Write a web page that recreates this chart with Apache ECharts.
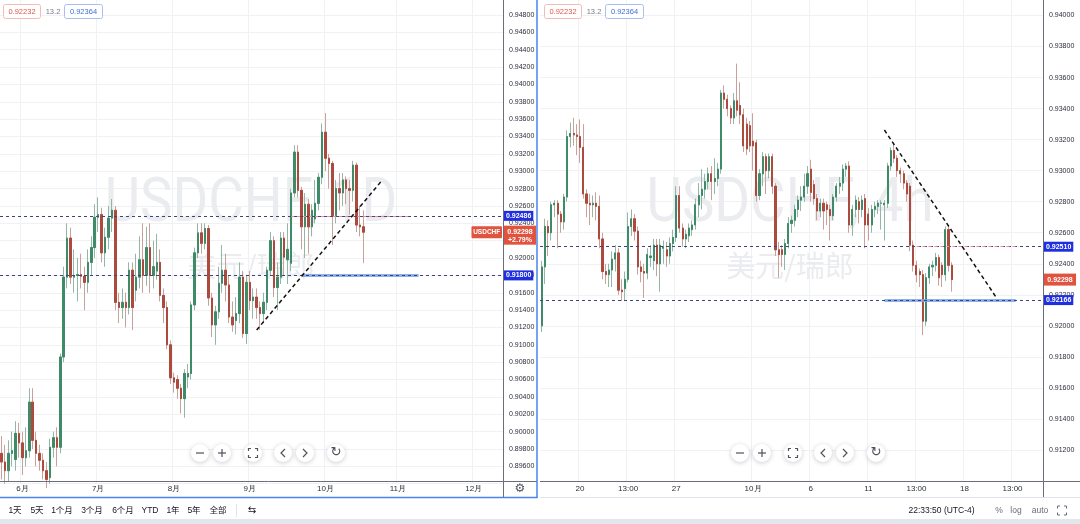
<!DOCTYPE html>
<html><head><meta charset="utf-8">
<script src="https://cdn.jsdelivr.net/npm/echarts@6/dist/echarts.min.js"></script>
<style>html,body{margin:0;padding:0;background:#fff;overflow:hidden}#c{width:1080px;height:524px}</style>
</head><body><div id="c"></div>
<script>
// ---------- data ----------
const leftTickIdx = [6, 28, 50, 72, 94, 115, 137];
const leftTickText = ['6月', '7月', '8月', '9月', '10月', '11月', '12月'];
const rightTickIdx = [12, 27, 42, 66, 84, 102, 117, 132, 147];
const rightTickText = ['20', '13:00', '27', '10月', '6', '11', '13:00', '18', '13:00'];

// daily candles [open, close, low, high]
const leftCandles = [
[0.8975,0.8965,0.8945,0.8995],[0.8965,0.8955,0.8940,0.8985],[0.8955,0.8975,0.8942,0.8990],[0.8975,0.8978,0.8960,0.9000],
[0.8968,0.8998,0.8955,0.9012],[0.8998,0.8987,0.8970,0.9010],[0.8987,0.8970,0.8950,0.9000],[0.8970,0.8978,0.8960,0.9005],
[0.8978,0.9034,0.8970,0.9050],[0.9034,0.8990,0.8980,0.9050],[0.8990,0.8975,0.8960,0.9000],[0.8975,0.8967,0.8955,0.8985],
[0.8967,0.8955,0.8945,0.8975],[0.8955,0.8945,0.8935,0.8965],[0.8947,0.8982,0.8940,0.8992],[0.8982,0.8993,0.8970,0.9000],
[0.8993,0.8982,0.8960,0.9005],[0.8982,0.9086,0.8975,0.9090],[0.9086,0.9178,0.9080,0.9190],[0.9178,0.9223,0.9165,0.9240],
[0.9223,0.9178,0.9170,0.9235],[0.9178,0.9180,0.9160,0.9210],[0.9180,0.9181,0.9150,0.9200],[0.9181,0.9179,0.9165,0.9205],
[0.9179,0.9172,0.9140,0.9190],[0.9172,0.9195,0.9160,0.9210],[0.9195,0.9212,0.9180,0.9225],[0.9212,0.9247,0.9200,0.9262],
[0.9247,0.9250,0.9230,0.9270],[0.9250,0.9206,0.9195,0.9258],[0.9206,0.9224,0.9190,0.9235],[0.9224,0.9246,0.9210,0.9260],
[0.9246,0.9255,0.9230,0.9268],[0.9255,0.9149,0.9140,0.9260],[0.9149,0.9143,0.9125,0.9160],[0.9143,0.9149,0.9130,0.9165],
[0.9149,0.9143,0.9120,0.9160],[0.9143,0.9186,0.9135,0.9195],[0.9186,0.9143,0.9117,0.9195],[0.9163,0.9178,0.9150,0.9205],
[0.9178,0.9198,0.9165,0.9225],[0.9198,0.9180,0.9160,0.9240],[0.9180,0.9212,0.9168,0.9236],[0.9212,0.9180,0.9160,0.9240],
[0.9180,0.9190,0.9165,0.9220],[0.9185,0.9195,0.9175,0.9228],[0.9195,0.9157,0.9150,0.9210],[0.9157,0.9143,0.9125,0.9165],
[0.9143,0.9100,0.9095,0.9150],[0.9100,0.9062,0.9055,0.9105],[0.9062,0.9057,0.9045,0.9068],[0.9060,0.9050,0.9038,0.9065],
[0.9050,0.9038,0.9021,0.9055],[0.9038,0.9067,0.9016,0.9072],[0.9063,0.9067,0.9050,0.9078],[0.9067,0.9146,0.9060,0.9150],
[0.9146,0.9206,0.9140,0.9212],[0.9206,0.9229,0.9200,0.9240],[0.9229,0.9217,0.9205,0.9240],[0.9217,0.9234,0.9210,0.9240],
[0.9234,0.9154,0.9145,0.9238],[0.9154,0.9123,0.9109,0.9160],[0.9123,0.9138,0.9100,0.9145],[0.9138,0.9171,0.9130,0.9190],
[0.9171,0.9186,0.9160,0.9215],[0.9186,0.9169,0.9150,0.9205],[0.9169,0.9132,0.9125,0.9180],[0.9132,0.9123,0.9115,0.9150],
[0.9128,0.9136,0.9112,0.9155],[0.9136,0.9178,0.9125,0.9195],[0.9178,0.9113,0.9108,0.9185],[0.9113,0.9172,0.9101,0.9180],
[0.9172,0.9151,0.9140,0.9185],[0.9151,0.9155,0.9130,0.9165],[0.9155,0.9143,0.9130,0.9165],[0.9143,0.9136,0.9117,0.9150],
[0.9136,0.9149,0.9125,0.9160],[0.9149,0.9186,0.9140,0.9190],[0.9186,0.9220,0.9180,0.9230],[0.9220,0.9166,0.9155,0.9225],
[0.9166,0.9178,0.9140,0.9195],[0.9178,0.9223,0.9170,0.9230],[0.9223,0.9201,0.9180,0.9230],[0.9198,0.9210,0.9170,0.9240],
[0.9194,0.9275,0.9185,0.9280],[0.9275,0.9322,0.9270,0.9330],[0.9322,0.9278,0.9270,0.9330],[0.9278,0.9236,0.9210,0.9282],
[0.9236,0.9262,0.9200,0.9275],[0.9262,0.9236,0.9205,0.9268],[0.9236,0.9255,0.9225,0.9262],[0.9245,0.9263,0.9240,0.9290],
[0.9263,0.9293,0.9255,0.9298],[0.9293,0.9345,0.9285,0.9355],[0.9345,0.9315,0.9300,0.9367],[0.9315,0.9309,0.9280,0.9320],
[0.9309,0.9249,0.9215,0.9312],[0.9249,0.9280,0.9240,0.9290],[0.9280,0.9275,0.9255,0.9298],[0.9275,0.9290,0.9260,0.9298],
[0.9290,0.9280,0.9262,0.9294],[0.9280,0.9278,0.9250,0.9290],[0.9278,0.9307,0.9265,0.9312],[0.9307,0.9238,0.9230,0.9310],
[0.9238,0.9236,0.9225,0.9260],[0.9236,0.92298,0.9194,0.9255]
];

// 4h candles [open, close, low, high]
const rightCandles = [
[0.9200,0.9238,0.9196,0.9242],[0.9238,0.9264,0.9227,0.9269],[0.9264,0.9260,0.9245,0.9268],[0.9260,0.9278,0.9255,0.9280],
[0.9278,0.9279,0.9270,0.9281],[0.9279,0.9272,0.9250,0.9281],[0.9272,0.9267,0.9260,0.9274],[0.9267,0.9283,0.9262,0.9285],
[0.9283,0.9322,0.9280,0.9326],[0.9322,0.9324,0.9315,0.9331],[0.9324,0.9323,0.9316,0.9334],[0.9323,0.9322,0.9310,0.9330],
[0.9322,0.9315,0.9305,0.9333],[0.9315,0.9285,0.9282,0.9330],[0.9285,0.9279,0.9270,0.9288],[0.9279,0.9278,0.9265,0.9285],
[0.9278,0.9279,0.9270,0.9284],[0.9279,0.9277,0.9268,0.9286],[0.9277,0.9256,0.9250,0.9284],[0.9256,0.9235,0.9230,0.9260],
[0.9235,0.9233,0.9227,0.9240],[0.9233,0.9236,0.9225,0.9240],[0.9236,0.9243,0.9225,0.9248],[0.9243,0.9247,0.9235,0.9252],
[0.9247,0.9223,0.9220,0.9250],[0.9223,0.9222,0.9216,0.9230],[0.9224,0.9230,0.9216,0.9235],[0.9230,0.9264,0.9228,0.9273],
[0.9264,0.9269,0.9258,0.9275],[0.9269,0.9261,0.9255,0.9272],[0.9261,0.9238,0.9233,0.9264],[0.9238,0.9235,0.9228,0.9242],
[0.9235,0.9234,0.9218,0.9240],[0.9234,0.9246,0.9230,0.9250],[0.9244,0.9245,0.9238,0.9252],[0.9242,0.9252,0.9236,0.9256],
[0.9252,0.9240,0.9232,0.9256],[0.9240,0.9252,0.9222,0.9256],[0.9250,0.9251,0.9240,0.9255],[0.9249,0.9245,0.9238,0.9254],
[0.9245,0.9253,0.9240,0.9257],[0.9253,0.9257,0.9248,0.9262],[0.9257,0.9284,0.9254,0.9290],[0.9284,0.9263,0.9260,0.9290],
[0.9263,0.9256,0.9251,0.9266],[0.9256,0.9259,0.9250,0.9262],[0.9258,0.9263,0.9254,0.9266],[0.9262,0.9265,0.9258,0.9268],
[0.9265,0.9278,0.9262,0.9282],[0.9278,0.9284,0.9270,0.9292],[0.9284,0.9288,0.9275,0.9301],[0.9288,0.9293,0.9282,0.9298],
[0.9293,0.9298,0.9288,0.9302],[0.9298,0.9293,0.9281,0.9303],[0.9293,0.9295,0.9285,0.9308],[0.9295,0.9301,0.9290,0.9305],
[0.9301,0.9350,0.9298,0.9352],[0.9350,0.9346,0.9340,0.9355],[0.9346,0.9340,0.9335,0.9349],[0.9340,0.9334,0.9330,0.9342],
[0.9334,0.9345,0.9330,0.9350],[0.9345,0.9339,0.9335,0.9369],[0.9342,0.9336,0.9330,0.9357],[0.9336,0.9316,0.9312,0.9340],
[0.9330,0.9314,0.9310,0.9334],[0.9329,0.9316,0.9312,0.9332],[0.9319,0.9316,0.9300,0.9337],[0.9318,0.9284,0.9280,0.9320],
[0.9284,0.9298,0.9281,0.9301],[0.9298,0.9309,0.9290,0.9312],[0.9309,0.9300,0.9285,0.9311],[0.9300,0.9309,0.9295,0.9311],
[0.9309,0.9290,0.9285,0.9311],[0.9290,0.9249,0.9245,0.9292],[0.9249,0.9246,0.9231,0.9254],[0.9249,0.9246,0.9238,0.9252],
[0.9246,0.9253,0.9236,0.9256],[0.9253,0.9266,0.9250,0.9270],[0.9266,0.9268,0.9260,0.9271],[0.9268,0.9275,0.9264,0.9278],
[0.9275,0.9281,0.9270,0.9284],[0.9281,0.9283,0.9274,0.9290],[0.9283,0.9290,0.9280,0.9298],[0.9290,0.9298,0.9285,0.9303],
[0.9301,0.9286,0.9280,0.9307],[0.9291,0.9282,0.9278,0.9294],[0.9282,0.9274,0.9268,0.9285],[0.9274,0.9279,0.9270,0.9282],
[0.9279,0.9274,0.9262,0.9282],[0.9278,0.9275,0.9265,0.9280],[0.9275,0.9271,0.9255,0.9278],[0.9271,0.9283,0.9268,0.9285],
[0.9283,0.9290,0.9280,0.9292],[0.9290,0.9292,0.9285,0.9296],[0.9292,0.9301,0.9287,0.9304],[0.9301,0.9303,0.9296,0.9305],
[0.9303,0.9265,0.9260,0.9306],[0.9265,0.9275,0.9258,0.9278],[0.9275,0.9281,0.9270,0.9284],[0.9280,0.9275,0.9266,0.9283],
[0.9275,0.9281,0.9270,0.9284],[0.9282,0.9265,0.9250,0.9285],[0.9272,0.9265,0.9255,0.9276],[0.9265,0.9275,0.9260,0.9278],
[0.9275,0.9277,0.9270,0.9280],[0.9277,0.9279,0.9272,0.9281],[0.9279,0.9279,0.9262,0.9281],[0.9278,0.9279,0.9255,0.9281],
[0.9279,0.9303,0.9276,0.9305],[0.9303,0.9313,0.9300,0.9315],[0.9313,0.9308,0.9305,0.9317],[0.9308,0.9300,0.9296,0.9310],
[0.9300,0.9298,0.9292,0.9302],[0.9298,0.9292,0.9288,0.9300],[0.9292,0.9285,0.9280,0.9294],[0.9290,0.9252,0.9248,0.9292],
[0.9252,0.9239,0.9235,0.9255],[0.9239,0.9233,0.9228,0.9242],[0.9235,0.9233,0.9225,0.9237],[0.9233,0.9203,0.9194,0.9236],
[0.9203,0.9231,0.9200,0.9234],[0.9231,0.9238,0.9227,0.9240],[0.9238,0.9239,0.9232,0.9242],[0.9239,0.9244,0.9235,0.9247],
[0.9244,0.9231,0.9226,0.9246],[0.9239,0.9233,0.9225,0.9241],[0.9233,0.9262,0.9229,0.9264],[0.9262,0.9239,0.9235,0.9264],
[0.9239,0.92298,0.9222,0.9241]
];

const leftLevels = [0.92486, 0.91800];
const rightLevels = [0.92510, 0.92166];
const leftPinkSpan = [84, 118], leftBlueSpan = [87, 121];
const rightPinkSpan = [117, 149], rightBlueSpan = [107, 148];
const leftTrend = [[74, 0.91171], [110, 0.92876]];
const rightTrend = [[107, 0.93262], [142, 0.92180]];
const lastPrice = 0.92298;
const lastChange = '+2.79%';
const legendTexts = ['0.92232', '13.2', '0.92364'];
const toolbarItems = ['1天', '5天', '1个月', '3个月', '6个月', 'YTD', '1年', '5年', '全部'];
const toolbarX = [15, 37, 62, 92, 123, 150, 173, 194, 218];
const clockText = '22:33:50 (UTC-4)';

// ---------- categories ----------
function weekdays(start, n) {
  const out = []; let t = Date.parse(start + 'T00:00:00Z');
  while (out.length < n) { const d = new Date(t), w = d.getUTCDay();
    if (w !== 0 && w !== 6) out.push(d.toISOString().slice(0, 10)); t += 86400000; }
  return out;
}
function fxBars(start, n) {
  const out = []; let t = Date.parse(start + ':00Z');
  while (out.length < n) { const d = new Date(t), w = d.getUTCDay(), h = d.getUTCHours();
    const closed = w === 6 || (w === 5 && h >= 17) || (w === 0 && h < 17);
    if (!closed) out.push(d.toISOString().slice(0, 16).replace('T', ' ')); t += 4 * 3600000; }
  return out;
}
const leftDates = weekdays('2021-05-24', 146);
const rightTimes = fxBars('2021-09-16T01:00', 157);

// ---------- styles ----------
const GREEN = '#3f8a68', RED = '#ad4a3e', GW = '#93b7a6', RW = '#c9a19a';
const NAVY = '#3c4380', AXIS = '#6b6e79', TXT = '#2a2e39', GRIDC = '#eff1f5';
const FONT = '"Liberation Sans", Arial, sans-serif';
const PRICE_BLUE = '#1f2fe0', PRICE_RED = '#e0533f';

function bodyData(c) { return c.map(r => [r[0], r[1], Math.min(r[0], r[1]), Math.max(r[0], r[1])]); }

function candleSeries(idx, data, bw) {
  return [
    { type: 'candlestick', xAxisIndex: idx, yAxisIndex: idx, data: data, barWidth: bw, silent: true, animation: false, z: 2,
      itemStyle: { color: GREEN, color0: RED, borderColor: GW, borderColor0: RW, borderColorDoji: GW, borderWidth: 1 } },
    { type: 'candlestick', xAxisIndex: idx, yAxisIndex: idx, data: bodyData(data), barWidth: bw, silent: true, animation: false, z: 3,
      itemStyle: { color: GREEN, color0: RED, borderColor: GREEN, borderColor0: RED, borderColorDoji: GREEN, borderWidth: 1 } }
  ];
}

function markSeries(idx, n, levels, pinkSpan, blueSpan, trend) {
  const data = [];
  data.push([{ coord: [blueSpan[0], levels[1]], lineStyle: { color: '#7aa3ea', width: 3, type: 'solid', opacity: 0.85 }, label: { show: false } },
             { coord: [blueSpan[1], levels[1]] }]);
  levels.forEach(v => data.push({ yAxis: v, lineStyle: { color: NAVY, width: 1, type: [3, 3] },
    label: { show: true, position: 'end', distance: 1, formatter: p => Number(p.value).toFixed(5),
      color: '#fff', backgroundColor: PRICE_BLUE, padding: [2, 2, 1, 2], fontSize: 7, fontWeight: 'bold', fontFamily: FONT } }));
  data.push([{ coord: [pinkSpan[0], levels[0]], lineStyle: { color: '#ec8d95', width: 1, type: [3, 3] }, label: { show: false } },
             { coord: [pinkSpan[1], levels[0]] }]);
  data.push([{ coord: trend[0], lineStyle: { color: '#111', width: 1.5, type: [4, 3] }, label: { show: false } },
             { coord: trend[1] }]);
  return { type: 'line', xAxisIndex: idx, yAxisIndex: idx, data: new Array(n).fill('-'), silent: true, animation: false,
    clip: false, showSymbol: false, z: 5,
    markLine: { silent: true, precision: 5, symbol: ['none', 'none'], animation: false, data: data } };
}

function xAxisOf(idx, gridIndex, cats, tickIdx, tickText, margin) {
  return { type: 'category', gridIndex: gridIndex, data: cats, boundaryGap: true,
    axisLine: { show: false }, axisTick: { show: false },
    axisLabel: { interval: (i) => tickIdx.indexOf(i) >= 0, formatter: (v, i) => tickText[tickIdx.indexOf(i)] || '',
      color: TXT, fontSize: 8, fontFamily: FONT, margin: margin },
    splitLine: { show: true, interval: (i) => tickIdx.indexOf(i) >= 0, lineStyle: { color: GRIDC, width: 1 } } };
}
function yAxisOf(gridIndex, min, max) {
  return { type: 'value', gridIndex: gridIndex, position: 'right', min: min, max: max, interval: 0.002, scale: true,
    axisLine: { show: false }, axisTick: { show: false },
    axisLabel: { show: true, showMinLabel: false, showMaxLabel: false, margin: 6, color: TXT, fontSize: 7, fontFamily: FONT,
      formatter: v => v.toFixed(5) },
    splitLine: { show: true, lineStyle: { color: GRIDC, width: 1 } } };
}

const chart = echarts.init(document.getElementById('c'), null, { renderer: 'canvas' });

// left: 0.948 at y=15, 8680 px per unit ; right: 0.940 at y=15.5, 15517 px per unit
const LS = 8680, RS = 15517;
const leftTop = 15 - 0.002 * LS, leftH = 0.056 * LS;
const rightTop = 15.5 - 0.002 * RS, rightH = 0.032 * RS;

chart.setOption({
  animation: false,
  backgroundColor: '#ffffff',
  grid: [
    { left: 0, top: leftTop, width: 503, height: leftH, containLabel: false, outerBoundsMode: 'none' },
    { left: 540, top: rightTop, width: 503, height: rightH, containLabel: false, outerBoundsMode: 'none' }
  ],
  xAxis: [
    xAxisOf(0, 0, leftDates, leftTickIdx, leftTickText, 1),
    xAxisOf(1, 1, rightTimes, rightTickIdx, rightTickText, 4)
  ],
  yAxis: [ yAxisOf(0, 0.894, 0.950), yAxisOf(1, 0.910, 0.942) ],
  series: [].concat(
    candleSeries(0, leftCandles, 2),
    candleSeries(1, rightCandles, 1.6),
    [markSeries(0, leftDates.length, leftLevels, leftPinkSpan, leftBlueSpan, leftTrend),
     markSeries(1, rightTimes.length, rightLevels, rightPinkSpan, rightBlueSpan, rightTrend)]
  )
});

// ---------- decorations ----------
function txt(x, y, text, font, fill, align, z, extra) {
  return Object.assign({ type: 'text', x: x, y: y, z: z || 50, silent: true,
    style: { text: text, font: font, fill: fill, align: align || 'center', verticalAlign: 'middle',
      textAlign: align || 'center', textVerticalAlign: 'middle' } }, extra || {});
}
function line(x1, y1, x2, y2, stroke, w, z) {
  return { type: 'line', silent: true, z: z || 60, shape: { x1: x1, y1: y1, x2: x2, y2: y2 }, style: { stroke: stroke, lineWidth: w || 1 } };
}
function rect(x, y, w, h, fill, stroke, z, r) {
  return { type: 'rect', silent: true, z: z || 60, shape: { x: x, y: y, width: w, height: h, r: r || 0 },
    style: { fill: fill, stroke: stroke || null, lineWidth: 1 } };
}
function navButtons(ox) {
  const cy = 453, xs = [200, 222, 253, 283, 305, 336], els = [];
  xs.forEach(x => els.push({ type: 'circle', silent: true, z: 100, shape: { cx: x + ox, cy: cy, r: 9 },
    style: { fill: '#fff', shadowBlur: 5, shadowColor: 'rgba(0,0,0,0.2)', shadowOffsetY: 1 } }));
  const s = { stroke: '#50535e', lineWidth: 1.2, fill: null };
  els.push({ type: 'line', silent: true, z: 101, shape: { x1: ox + 196, y1: cy, x2: ox + 204, y2: cy }, style: s });
  els.push({ type: 'line', silent: true, z: 101, shape: { x1: ox + 218, y1: cy, x2: ox + 226, y2: cy }, style: s });
  els.push({ type: 'line', silent: true, z: 101, shape: { x1: ox + 222, y1: cy - 4, x2: ox + 222, y2: cy + 4 }, style: s });
  const c = ox + 253, d = 4.5, k = 2.5;
  [[-1, -1], [1, -1], [-1, 1], [1, 1]].forEach(([sx, sy]) => els.push({ type: 'polyline', silent: true, z: 101,
    shape: { points: [[c + sx * d, cy + sy * (d - k)], [c + sx * d, cy + sy * d], [c + sx * (d - k), cy + sy * d]] }, style: s }));
  els.push({ type: 'polyline', silent: true, z: 101, shape: { points: [[ox + 285, cy - 4], [ox + 281, cy], [ox + 285, cy + 4]] }, style: s });
  els.push({ type: 'polyline', silent: true, z: 101, shape: { points: [[ox + 303, cy - 4], [ox + 307, cy], [ox + 303, cy + 4]] }, style: s });
  els.push(txt(ox + 336, cy, '↻', '13px "DejaVu Sans"', '#50535e', 'center', 101));
  return els;
}
function legend(ox) {
  return [
    rect(ox + 3.5, 4.5, 37, 14, '#fff', '#f2bcb8', 70, 2),
    txt(ox + 22, 11.5, legendTexts[0], '7.5px ' + FONT, '#e0574e', 'center', 71),
    txt(ox + 53, 11.5, legendTexts[1], '7.5px ' + FONT, '#787b86', 'center', 71),
    rect(ox + 64.5, 4.5, 38, 14, '#fff', '#a8c0ef', 70, 2),
    txt(ox + 83.5, 11.5, legendTexts[2], '7.5px ' + FONT, '#3f6fd8', 'center', 71)
  ];
}
function watermark(cx, title) {
  const wm = '#ebecef';
  return [
    { type: 'text', silent: true, z: 1, x: cx, y: 205, scaleX: 0.88,
      style: { text: title, font: '62px Roboto, sans-serif', fill: wm, align: 'center', verticalAlign: 'middle', textAlign: 'center', textVerticalAlign: 'middle' } },
    { type: 'text', silent: true, z: 1, x: cx, y: 266,
      style: { text: '美元/瑞郎', font: '29px "Noto Sans CJK SC"', fill: wm, align: 'center', verticalAlign: 'middle', textAlign: 'center', textVerticalAlign: 'middle' } }
  ];
}

const yL = chart.convertToPixel({ yAxisIndex: 0 }, lastPrice);
const yR = chart.convertToPixel({ yAxisIndex: 1 }, lastPrice);

const g = [];
g.push.apply(g, watermark(251, 'USDCHF, 1D'));
g.push.apply(g, watermark(790, 'USDCHF, 4h'));
// axis frame lines
g.push(line(0, 481.5, 537, 481.5, AXIS, 1, 40));
g.push(line(540, 481.5, 1080, 481.5, AXIS, 1, 40));
g.push(line(503.5, 0, 503.5, 497, AXIS, 1, 40));
g.push(line(1043.5, 0, 1043.5, 497, AXIS, 1, 40));
g.push(line(540, 497.5, 1080, 497.5, '#e0e3eb', 1, 40));
// left panel selection border
g.push(line(537, 0, 537, 497.5, '#4a82ee', 1.5, 90));
g.push(line(0, 497.5, 537.7, 497.5, '#4a82ee', 1.5, 90));
// last price tags
g.push(rect(471.5, yL - 6, 30.5, 12, PRICE_RED, null, 80, 1));
g.push(txt(486.7, yL, 'USDCHF', 'bold 6.5px ' + FONT, '#fff', 'center', 81));
g.push(rect(504, yL - 6.5, 32, 19, PRICE_RED, null, 80, 0));
g.push(txt(520, yL - 0.5, lastPrice.toFixed(5), 'bold 7px ' + FONT, '#fff', 'center', 81));
g.push(txt(520, yL + 7.5, lastChange, 'bold 7px ' + FONT, '#fff', 'center', 81));
g.push(rect(1044, yR - 6, 32, 12, PRICE_RED, null, 80, 0));
g.push(txt(1060, yR, lastPrice.toFixed(5), 'bold 7px ' + FONT, '#fff', 'center', 81));
// legends
g.push.apply(g, legend(0));
g.push.apply(g, legend(541));
// nav buttons
g.push.apply(g, navButtons(0));
g.push.apply(g, navButtons(540));
// gear
g.push(txt(520, 489, '⚙', '12px "DejaVu Sans"', '#50535e', 'center', 60));
// toolbar
toolbarItems.forEach((t, i) => g.push(txt(toolbarX[i], 510.5, t, '8.5px ' + FONT + ', "Noto Sans CJK SC"', '#131722', 'center', 60)));
g.push(line(236.5, 504, 236.5, 517, '#e0e3eb', 1, 60));
g.push(txt(252, 510.5, '⇆', '10px "DejaVu Sans"', '#131722', 'center', 60));
g.push(txt(941.5, 510.5, clockText, '8.5px ' + FONT, '#131722', 'center', 60));
g.push(txt(999, 510.5, '%', '8.5px ' + FONT, '#6a6d78', 'center', 60));
g.push(txt(1016, 510.5, 'log', '8.5px ' + FONT, '#6a6d78', 'center', 60));
g.push(txt(1040, 510.5, 'auto', '8.5px ' + FONT, '#6a6d78', 'center', 60));
(function () {
  const c = 1062, cy = 510.5, d = 4.5, k = 2.5, s = { stroke: '#6a6d78', lineWidth: 1, fill: null };
  [[-1, -1], [1, -1], [-1, 1], [1, 1]].forEach(([sx, sy]) => g.push({ type: 'polyline', silent: true, z: 60,
    shape: { points: [[c + sx * d, cy + sy * (d - k)], [c + sx * d, cy + sy * d], [c + sx * (d - k), cy + sy * d]] }, style: s }));
})();
g.push(rect(0, 519, 1080, 5, '#e3e7eb', null, 60));

chart.setOption({ graphic: { elements: g } });
</script>
</body></html>
